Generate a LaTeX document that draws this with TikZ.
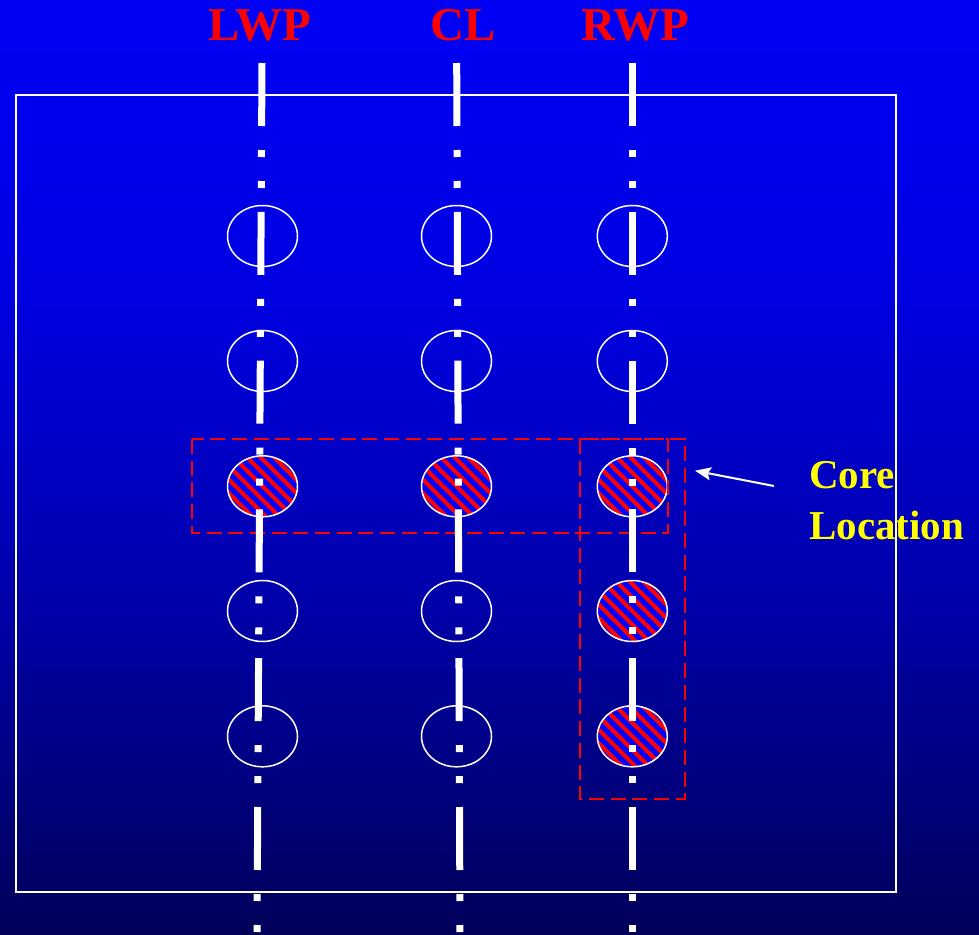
\documentclass[tikz,border=0pt]{standalone}
\usepackage{fontspec}
\setmainfont{Liberation Serif}
\usetikzlibrary{shapes.geometric,arrows.meta}

\definecolor{bgtop}{RGB}{0,0,245}
\definecolor{bgupper}{RGB}{0,0,225}
\definecolor{bglower}{RGB}{0,0,170}
\definecolor{bgbottom}{RGB}{0,0,90}
\definecolor{hatchblue}{RGB}{0,0,255}
\definecolor{hatchred}{RGB}{255,0,0}
\definecolor{noteyellow}{RGB}{255,255,0}

% backdrop gradient: the shaded path spans the 25bp..75bp band
\pgfdeclareverticalshading{backdrop}{100bp}{%
  color(0bp)=(bgbottom); color(25bp)=(bgbottom);
  color(42.9bp)=(bglower); color(58.9bp)=(bgupper);
  color(75bp)=(bgtop); color(100bp)=(bgtop)}

\tikzset{
  site/.style={ellipse, draw=white, line width=1.5pt,
    minimum width=70pt, minimum height=61pt, inner sep=0pt},
  coresite/.style={site, fill=hatchblue,
    path picture={
      \foreach \k in {-7,...,7}
        \draw[hatchred, line width=4pt]
          ([xshift=\k*13.5pt]path picture bounding box.center)
          ++(-60pt,60pt) -- ++(120pt,-120pt);
    }},
  axisline/.style={white, line width=7pt,
    dash pattern=on 63pt off 24pt on 7pt off 24pt on 7pt off 23.8pt},
  corebox/.style={draw=hatchred, line width=2.2pt, dash pattern=on 15pt off 6.7pt},
  colhead/.style={text=hatchred, font=\fontsize{47}{47}\selectfont\bfseries,
    anchor=base, inner sep=0pt},
  note/.style={text=noteyellow, font=\fontsize{41}{51}\selectfont\bfseries,
    align=left, inner sep=0pt},
  pointer/.style={white, line width=2pt, -{Stealth[length=16pt,width=13pt,inset=3pt]}}
}

\begin{document}
\begin{tikzpicture}[x=1pt,y=-1pt]
  \useasboundingbox (0,0) rectangle (979,934);
  \shade[shading=backdrop] (0,0) rectangle (979,934);

  % outer frame
  \draw[white, line width=2pt] (16,95) rectangle (896,892);

  % sites: plain and core-marked
  \foreach \r/\y in {1/236,2/361,4/611,5/736.3} {
    \node[site] (lwp\r) at (262.5,\y) {};
    \node[site] (cl\r)  at (456.5,\y) {};
  }
  \node[site] (rwp1) at (632.3,236) {};
  \node[site] (rwp2) at (632.3,361) {};
  \node[coresite] (lwp3) at (262.5,486.3) {};
  \node[coresite] (cl3)  at (456.5,486.3) {};
  \node[coresite] (rwp3) at (632.3,486.3) {};
  \node[coresite] (rwp4) at (632.3,611) {};
  \node[coresite] (rwp5) at (632.3,736.3) {};

  % core location boxes
  \draw[corebox] (192,439) rectangle (668,533);
  \draw[corebox] (580,439) rectangle (685,799);

  % dash-dot-dot axes
  \coordinate (lwp-top) at (262,63);   \coordinate (lwp-bot) at (257,934);
  \coordinate (cl-top)  at (456.7,63); \coordinate (cl-bot)  at (460,934);
  \coordinate (rwp-top) at (632.3,63); \coordinate (rwp-bot) at (632.3,934);
  \draw[axisline] (lwp-top) -- (lwp-bot);
  \draw[axisline] (cl-top) -- (cl-bot);
  \draw[axisline] (rwp-top) -- (rwp-bot);

  % column headings
  \node[colhead] (lwp-label) at (259.7,41) {LWP};
  \node[colhead] (cl-label)  at (463,41) {CL};
  \node[colhead] (rwp-label) at (635,41) {RWP};

  % note (base anchor sits on the last line) and pointer
  \node[note, anchor=base west] (core-note) at (809,539) {Core\\Location};
  \coordinate (arrow-tail) at (774,486);
  \coordinate (arrow-tip) at (695,470.7);
  \draw[pointer] (arrow-tail) -- (arrow-tip);
\end{tikzpicture}
\end{document}
